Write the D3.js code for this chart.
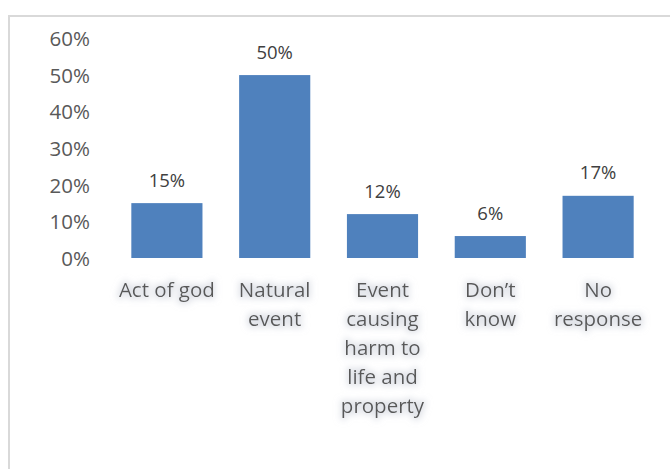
<!DOCTYPE html>
<html>
<head>
<meta charset="utf-8">
<script src="https://cdn.jsdelivr.net/npm/d3@7"></script>
<style>
  html, body { margin: 0; padding: 0; background: #fff; }
  svg { display: block; }
</style>
</head>
<body>
<svg id="chart" width="670" height="469"></svg>
<script>
const categories = [
  ["Act of god"],
  ["Natural", "event"],
  ["Event", "causing", "harm to", "life and", "property"],
  ["Don\u2019t", "know"],
  ["No", "response"]
];
const categoryKeys = ["Act of god", "Natural event", "Event causing harm to life and property", "Don\u2019t know", "No response"];
const values = [0.15, 0.50, 0.12, 0.06, 0.17];
const yTicks = [0, 0.1, 0.2, 0.3, 0.4, 0.5, 0.6];

const svg = d3.select("#chart");
const font = "'Open Sans', 'Liberation Sans', sans-serif";

// glow filter
const defs = svg.append("defs");
const f = defs.append("filter").attr("id", "glow").attr("x", "-20%").attr("y", "-40%").attr("width", "140%").attr("height", "180%");
f.append("feMorphology").attr("in", "SourceAlpha").attr("operator", "dilate").attr("radius", 2).attr("result", "d");
f.append("feGaussianBlur").attr("in", "d").attr("stdDeviation", 3).attr("result", "b");
f.append("feFlood").attr("flood-color", "#c9ced8").attr("flood-opacity", 0.55).attr("result", "c");
f.append("feComposite").attr("in", "c").attr("in2", "b").attr("operator", "in").attr("result", "g");
const m = f.append("feMerge");
m.append("feMergeNode").attr("in", "g");
m.append("feMergeNode").attr("in", "SourceGraphic");

// outer border
svg.append("rect")
  .attr("x", 9).attr("y", 16).attr("width", 680).attr("height", 480)
  .attr("fill", "none").attr("stroke", "#d9d9d9").attr("stroke-width", 2);

const x = d3.scaleBand().domain(categoryKeys).range([113, 652]).paddingInner(0.34).paddingOuter(0.17);
const y = d3.scaleLinear().domain([0, 0.6]).range([258, 38.5]);

// y axis labels
const yAxis = d3.axisLeft(y).tickValues(yTicks).tickFormat(d3.format(".0%")).tickSize(0).tickPadding(0);
const gy = svg.append("g").attr("transform", "translate(90,0)").call(yAxis);
gy.select(".domain").remove();
gy.selectAll("text")
  .attr("font-family", font).attr("font-size", 20.5).attr("fill", "#595959")
  .attr("dy", "0.35em");

// bars
svg.append("g").selectAll("rect").data(values).join("rect")
  .attr("x", (d, i) => x(categoryKeys[i]))
  .attr("y", d => y(d))
  .attr("width", x.bandwidth())
  .attr("height", d => y(0) - y(d))
  .attr("fill", "#4f81bd");

// baseline
const xAxis = d3.axisBottom(x).tickSize(0).tickFormat("");
const gx = svg.append("g").attr("transform", `translate(0,${y(0)})`).call(xAxis);
gx.select(".domain").attr("stroke", "#d9d9d9").attr("stroke-width", 2).attr("filter", "url(#glow)");

// value labels
svg.append("g").selectAll("text").data(values).join("text")
  .attr("x", (d, i) => x(categoryKeys[i]) + x.bandwidth() / 2)
  .attr("y", d => y(d) - 23)
  .attr("dy", "0.35em")
  .attr("text-anchor", "middle")
  .attr("font-family", font).attr("font-size", 18.5).attr("fill", "#404040")
  .text(d => d3.format(".0%")(d));

// category labels
const cl = svg.append("g").selectAll("text").data(categories).join("text")
  .attr("text-anchor", "middle")
  .attr("font-family", font).attr("font-size", 20.5).attr("fill", "#595959")
  .attr("filter", "url(#glow)");
cl.each(function(lines, i) {
  const t = d3.select(this);
  const cx = x(categoryKeys[i]) + x.bandwidth() / 2;
  lines.forEach((ln, j) => {
    t.append("tspan").attr("x", cx).attr("y", 290 + j * 29).attr("dy", "0.35em").text(ln);
  });
});
</script>
</body>
</html>
